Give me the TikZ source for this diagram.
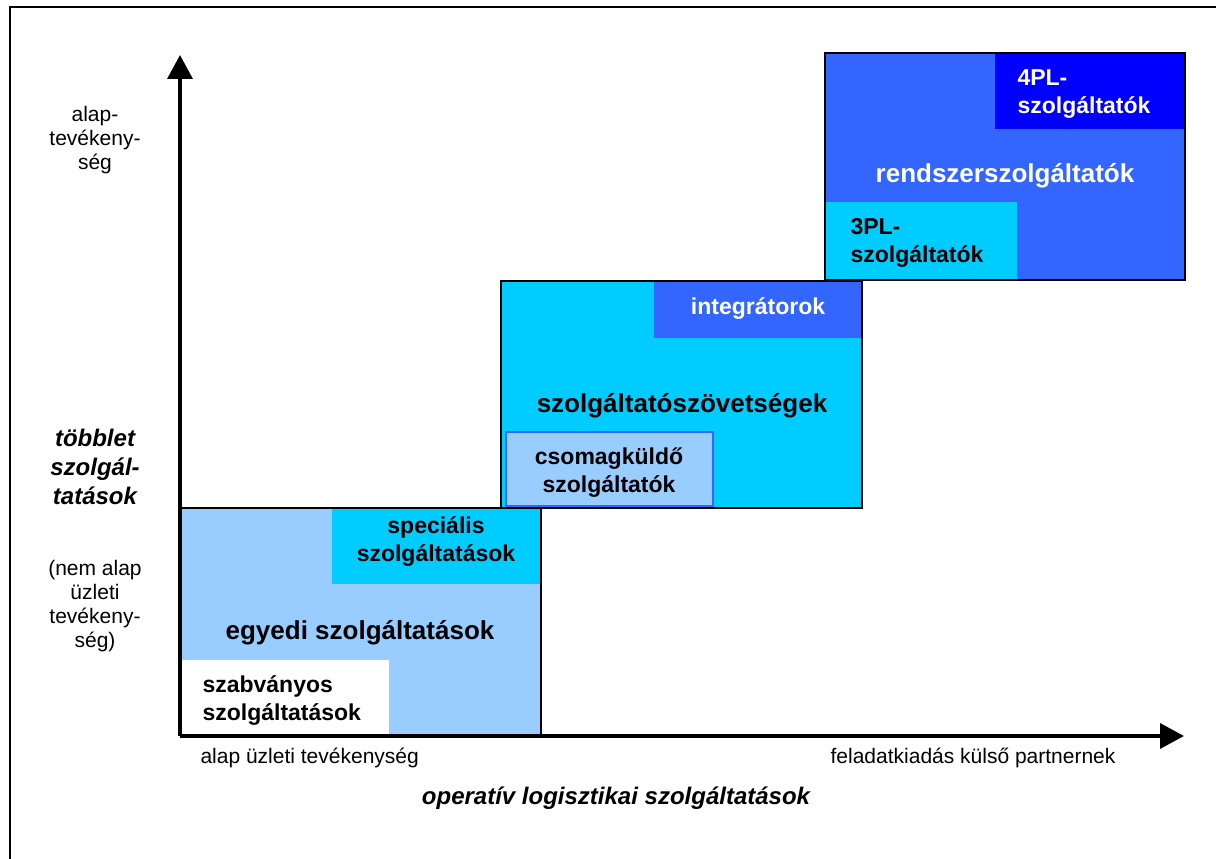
\documentclass[tikz,border=0pt]{standalone}
\usepackage{fontspec}
\setmainfont{Liberation Sans}
\usetikzlibrary{arrows.meta}
\definecolor{lightblue}{HTML}{99CCFF}
\definecolor{cyanbox}{HTML}{00CCFF}
\definecolor{midblue}{HTML}{3366FF}
\definecolor{deepblue}{HTML}{0000FF}

\begin{document}
\begin{tikzpicture}[x=1pt,y=-1pt,>={Triangle[length=24pt,width=25pt]},
	area/.style={inner sep=0pt,outer sep=0pt,anchor=north west},
	big/.style={font=\fontsize{26}{31}\selectfont\bfseries},
	small/.style={font=\fontsize{23}{28}\selectfont\bfseries,align=center},
	plain/.style={font=\fontsize{21}{24}\selectfont,align=center},
	emph/.style={font=\fontsize{24}{29}\selectfont\bfseries\itshape,align=center}]

\useasboundingbox (0,0) rectangle (1216,859);
\draw[line width=2] (1216,7) -- (10,7) -- (10,859);

% boxes
\node[area,fill=lightblue,minimum width=360,minimum height=227]   (egyedi)   at (181,508) {};
\node[area,fill=white,minimum width=208,minimum height=75]   (szabv)   at (181,660) {};
\node[area,fill=cyanbox,minimum width=209,minimum height=76]   (spec)   at (332,508) {};
\node[area,fill=cyanbox,minimum width=361,minimum height=227]   (szov)   at (501,281) {};
\node[area,fill=midblue,minimum width=208,minimum height=57]   (integr)   at (654,281) {};
\node[area,fill=lightblue,draw=midblue,line width=2,minimum width=207,minimum height=74]   (csomag)   at (506,432) {};
\node[area,fill=midblue,minimum width=360,minimum height=227]   (rendszer)   at (825,53) {};
\node[area,fill=deepblue,minimum width=190,minimum height=76]   (negyPL)   at (995,53) {};
\node[area,fill=cyanbox,minimum width=192,minimum height=78]   (haromPL)   at (825,202) {};
\foreach \b in {egyedi,szov,rendszer}
	\draw[line width=1.5] (\b.north west) rectangle (\b.south east);

% box texts
\node[small,anchor=west,align=left]   (szabvTxt)   at (199,700)   {szabványos\\szolgáltatások};
\node[small]   (specTxt)   at (436,541)   {speciális\\szolgáltatások};
\node[big]   (egyediTxt)   at (360,633)   {egyedi szolgáltatások};
\node[big]   (szovTxt)   at (682,406)   {szolgáltatószövetségek};
\node[small,text=white]   (integrTxt)   at (758,309)   {integrátorok};
\node[small]   (csomagTxt)   at (609,473)   {csomagküldő\\szolgáltatók};
\node[big,text=white]   (rendszerTxt)   at (1005,176)   {rendszerszolgáltatók};
\node[small,text=white,anchor=west,align=left]   (negyTxt)   at (1014,94)   {4PL-\\szolgáltatók};
\node[small,anchor=west,align=left]   (haromTxt)   at (847,243)   {3PL-\\szolgáltatók};

% axes
\coordinate (origin) at (180,736);
\coordinate (ytip) at (180,55);
\coordinate (xtip) at (1184,736);
\draw[->,line width=3.5] (origin) -- (ytip);
\draw[->,line width=3.5] (origin) -- (xtip);

% axis labels
\node[plain]   (alapLbl)   at (95,140)   {alap-\\tevékeny-\\ség};
\node[emph]   (tobbletLbl)   at (95,467)   {többlet\\szolgál-\\tatások};
\node[plain]   (nemLbl)   at (95,606)   {(nem alap\\üzleti\\tevékeny-\\ség)};
\node[plain,anchor=west]   (xleft)   at (197,758)   {alap üzleti tevékenység};
\node[plain,anchor=east]   (xright)   at (1119,758)   {feladatkiadás külső partnernek};
\node[emph]   (xtitle)   at (616,798)   {operatív logisztikai szolgáltatások};
\end{tikzpicture}
\end{document}
